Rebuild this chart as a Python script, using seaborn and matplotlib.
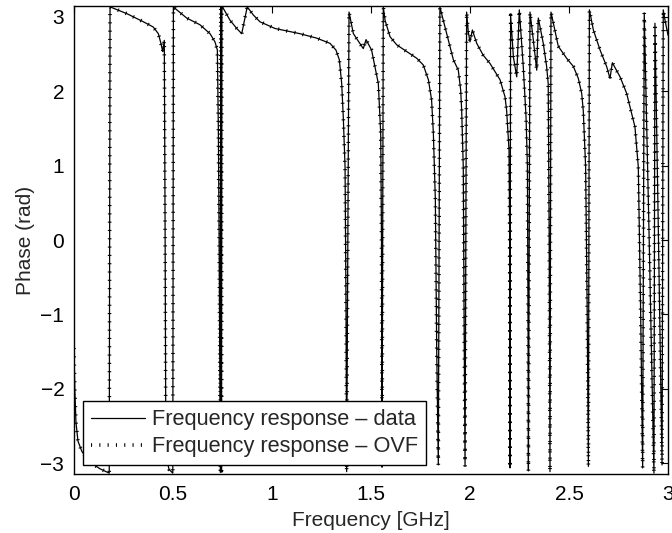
import matplotlib
matplotlib.use("Agg")
import matplotlib.pyplot as plt
import seaborn as sns
import numpy as np

# ---- data (frequency in GHz, wrapped phase in rad) ----
freq_ghz = [
    0.000, 0.004, 0.010, 0.020, 0.040, 0.080, 0.130, 0.178,
    0.182, 0.266, 0.350, 0.400, 0.426, 0.439, 0.448, 0.456, 0.458, 0.460, 0.462, 0.464, 0.480, 0.499,
    0.502, 0.510, 0.569, 0.636, 0.687, 0.712, 0.724, 0.729, 0.733, 0.737, 0.739,
    0.741, 0.743, 0.745,
    0.747, 0.754, 0.788, 0.822, 0.847, 0.875, 0.906, 0.939, 1.015, 1.141, 1.226, 1.293, 1.323, 1.340,
    1.352, 1.360, 1.369, 1.374, 1.377,
    1.389, 1.411, 1.461, 1.475, 1.503, 1.537, 1.549, 1.553, 1.556,
    1.562, 1.571, 1.596, 1.630, 1.680, 1.731, 1.764, 1.790, 1.806, 1.815, 1.820, 1.825, 1.832, 1.840,
    1.848, 1.865, 1.899, 1.916, 1.941, 1.953, 1.958, 1.966, 1.970, 1.975,
    1.983, 1.991, 2.000, 2.012, 2.034, 2.067, 2.101, 2.152, 2.177, 2.185, 2.197, 2.200, 2.202,
    2.205, 2.219, 2.236, 2.249, 2.269, 2.283, 2.290, 2.293, 2.295,
    2.303, 2.320, 2.337, 2.345, 2.370, 2.387, 2.395, 2.400, 2.404,
    2.409, 2.421, 2.446, 2.488, 2.522, 2.547, 2.564, 2.572, 2.584, 2.592, 2.598,
    2.603, 2.623, 2.657, 2.690, 2.707, 2.719, 2.758, 2.791, 2.833, 2.850, 2.862, 2.872,
    2.880, 2.905, 2.929,
    2.934, 2.952, 2.970,
    2.976, 2.985, 3.000,
]
phase_data = [
    -1.45, -2.00, -2.45, -2.70, -2.84, -2.98, -3.07, -3.13,
    3.13, 3.04, 2.93, 2.86, 2.77, 2.64, 2.53, 2.68, 1.50, 0.20, -1.50, -2.90, -3.08, -3.13,
    3.13, 3.11, 2.98, 2.89, 2.77, 2.66, 2.55, 1.50, 0.00, -2.00, -3.12,
    3.12, 1.00, -3.10,
    3.13, 3.11, 2.95, 2.84, 2.77, 3.13, 3.02, 2.93, 2.84, 2.77, 2.71, 2.64, 2.55, 2.42,
    2.10, 1.65, 0.98, -1.00, -3.11,
    3.06, 2.77, 2.57, 2.69, 2.55, 2.10, 1.43, 0.00, -3.05,
    3.13, 2.95, 2.73, 2.62, 2.53, 2.44, 2.35, 2.15, 1.88, 1.43, 0.98, 0.54, -1.50, -3.02,
    3.13, 2.95, 2.60, 2.42, 2.28, 2.01, 1.74, 0.98, -1.00, -3.04,
    3.06, 2.80, 2.66, 2.82, 2.64, 2.48, 2.37, 2.15, 1.92, 1.74, 1.21, 0.20, -3.06,
    3.02, 2.46, 2.19, 3.09, 2.33, 1.65, 0.98, -1.00, -3.10,
    3.06, 2.68, 2.28, 2.98, 2.64, 2.33, 2.10, 0.00, -3.11,
    3.06, 2.91, 2.60, 2.44, 2.33, 2.17, 1.97, 1.74, 0.98, -1.00, -3.04,
    3.09, 2.82, 2.55, 2.33, 2.17, 2.38, 2.19, 1.97, 1.52, 0.98, -1.00, -3.06,
    3.05, 0.00, -3.13,
    2.91, 0.00, -3.02,
    3.09, 2.95, 2.75,
]
# the OVF fit is indistinguishable from the data at this scale
freq_ovf = list(freq_ghz)
phase_ovf = list(phase_data)

x_ticks = [0, 0.5, 1, 1.5, 2, 2.5, 3]
x_tick_labels = ["0", "0.5", "1", "1.5", "2", "2.5", "3"]
y_ticks = [-3, -2, -1, 0, 1, 2, 3]
label_data = "Frequency response \u2013 data"
label_ovf = "Frequency response \u2013 OVF"

# ---- style ----
sns.set_style("white")
plt.rcParams["font.family"] = ["Liberation Sans", "DejaVu Sans"]
plt.rcParams["font.size"] = 15
plt.rcParams["axes.unicode_minus"] = True

fig = plt.figure(figsize=(6.72, 5.33), dpi=100)
ax = fig.add_axes([74 / 672, 59 / 533, 594 / 672, 468 / 533])

sns.lineplot(x=freq_ghz, y=phase_data, ax=ax, sort=False, estimator=None,
             color="black", linewidth=0.9, label=label_data)
sns.lineplot(x=freq_ovf, y=phase_ovf, ax=ax, sort=False, estimator=None,
             color="black", linewidth=2.6, linestyle=(0, (0.3, 2.0)),
             dash_capstyle="butt", label=label_ovf)

ax.set_xlim(0, 3)
ax.set_ylim(-np.pi, np.pi)
ax.set_xticks(x_ticks)
ax.set_xticklabels(x_tick_labels)
ax.set_yticks(y_ticks)
ax.tick_params(direction="in", length=5, width=0.8, top=True, right=True,
               labelsize=15, colors="black")
ax.tick_params(axis="x", pad=8)
ax.tick_params(axis="y", pad=7)
for s in ax.spines.values():
    s.set_color("black")
    s.set_linewidth(1.0)
    s.set_visible(True)

ax.set_xlabel("Frequency [GHz]", fontsize=15, labelpad=5)
ax.set_ylabel("Phase (rad)", fontsize=15, labelpad=4)

leg = ax.legend(loc="lower left", bbox_to_anchor=(0.015, 0.019),
                borderaxespad=0, fancybox=False, framealpha=1, edgecolor="black",
                handlelength=2.5, handletextpad=0.33, borderpad=0.36,
                labelspacing=0.28, fontsize=15.7)
leg.get_frame().set_linewidth(1.0)

fig.savefig("out.png", dpi=100)
